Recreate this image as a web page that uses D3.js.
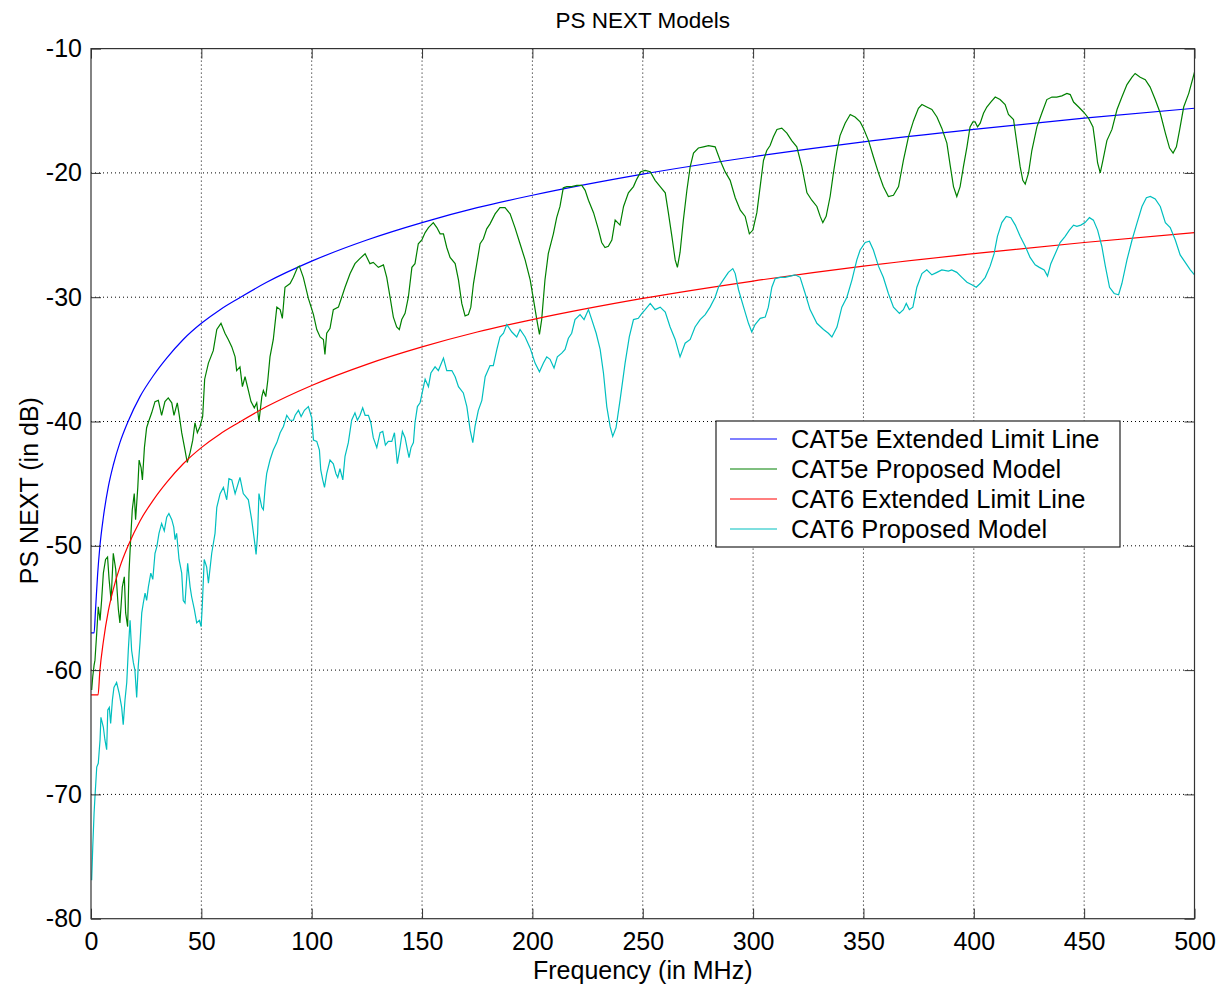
<!DOCTYPE html>
<head>
  <meta charset="utf-8">
  <style>
  body {
    margin: 0;
    background: #fff;
  }

  text {
    font-family: "Liberation Sans", Arial, sans-serif;
    fill: #000;
  }

  .grid line {
    stroke: #000;
    stroke-width: 1px;
    stroke-dasharray: 1, 3;
  }

  .line {
    fill: none;
    stroke-width: 1.2px;
  }
</style>
</head>
<svg class="chart" width="1222" height="989"></svg>

<script src="https://cdn.jsdelivr.net/npm/d3@7"></script>
<script>
// frequency ticks (MHz) and level ticks (dB)
var xTicks = [0, 50, 100, 150, 200, 250, 300, 350, 400, 450, 500];
var yTicks = [-80, -70, -60, -50, -40, -30, -20, -10];

var seriesNames = [
  "CAT5e Extended Limit Line",
  "CAT5e Proposed Model",
  "CAT6 Extended Limit Line",
  "CAT6 Proposed Model"
];

// [frequency MHz, PS NEXT dB]
var cat5eLimit = [
  [0, -57], [1.4, -57], [2, -55.3], [3, -52.3], [4, -50.1], [5.6, -47.7], [7.9, -45.2],
  [10.1, -43.5], [13.1, -41.7], [16.8, -40], [22.2, -38], [28.3, -36.3], [34.3, -34.9],
  [41.8, -33.4], [50, -32.1], [58.5, -31], [66.8, -30.1], [79.6, -28.8], [100, -27.1],
  [125, -25.4], [150, -24], [175, -22.8], [200, -21.8], [250, -20.1], [300, -18.7],
  [350, -17.5], [400, -16.5], [450, -15.6], [500, -14.8]
];

var cat6Limit = [
  [0, -62], [3.2, -62], [4, -60.1], [5.6, -57.7], [7.9, -55.2], [10.1, -53.5],
  [13.1, -51.7], [16.8, -50], [22.2, -48], [28.3, -46.3], [34.3, -44.9], [41.8, -43.4],
  [50, -42.1], [58.5, -41], [66.8, -40.1], [79.6, -38.8], [100, -37.1], [125, -35.4],
  [150, -34], [175, -32.8], [200, -31.8], [250, -30.1], [300, -28.7], [350, -27.5],
  [400, -26.5], [450, -25.6], [500, -24.8]
];

var cat5eModel = [
  [0.3,-61.6],[0.8,-60.5],[1.4,-59.6],[1.8,-59.2],[2.6,-57],[3.3,-54.9],[4.1,-56],[4.8,-54.4],
  [5.6,-52.2],[6.6,-51.1],[7.5,-50.9],[8.2,-52.7],[9.1,-54.4],[10.1,-50.6],[11.2,-51.9],
  [12.4,-55.1],[13.1,-56.2],[14.2,-53.3],[15.1,-52.5],[15.7,-55.4],[16.6,-56.5],[17.2,-52.2],
  [18.1,-49],[18.7,-47.1],[19.6,-45.8],[20.2,-47.9],[21.2,-45.3],[21.8,-43.1],[22.7,-43.7],
  [23.3,-44.7],[24.2,-42.1],[25.2,-40.5],[26.3,-39.9],[27.5,-39.3],[29,-38.4],[30.5,-38.3],
  [32,-39.5],[33.5,-38.4],[35,-38.1],[36.6,-38.5],[37.6,-39.5],[39.1,-38.5],[40,-39.5],
  [41.1,-40.9],[42.6,-42.3],[43.6,-43.3],[44.9,-42.5],[46.1,-41.5],[47.1,-40.1],[48.2,-40.9],
  [49.4,-40.4],[50.6,-39.6],[51.5,-36.6],[53.2,-35.3],[55.4,-34.3],[57,-32.6],[58.9,-32.1],
  [60.7,-32.9],[62.2,-33.4],[63.8,-34],[65.3,-34.8],[66,-35.9],[67.5,-35.6],[68.6,-37.2],
  [69.8,-36.4],[71.3,-37.5],[72.5,-38.4],[74,-38.9],[75.1,-38.5],[76.1,-40],[77.4,-38],
  [78.1,-37.5],[79.2,-38],[80.1,-36.7],[81.1,-34.8],[82.6,-33.4],[84.2,-30.8],[85.7,-31],
  [86.7,-31.7],[87.9,-29.2],[90.2,-28.9],[91.7,-28.4],[93.6,-27.6],[94.4,-27.5],[96.2,-28.4],
  [98.5,-30.1],[100.8,-31.4],[102.3,-32.6],[103.8,-33.2],[105.3,-33.4],[106,-34.6],[106.8,-32.9],
  [108.3,-32.5],[109.8,-31],[112.1,-30.8],[113.6,-30],[115.1,-29.2],[117.4,-28.1],[119.6,-27.3],
  [121.8,-26.9],[124.2,-26.5],[126.4,-27.3],[127.9,-27.2],[130.2,-27.6],[132.5,-27.4],[134,-28.4],
  [135.5,-30],[137,-31.6],[138.5,-32.4],[139.7,-32.6],[140.8,-31.8],[142.3,-31.3],[143.8,-30],
  [145.4,-27.6],[146.8,-27.3],[148.3,-25.7],[149.9,-25.4],[151.4,-24.8],[152.9,-24.4],[155.1,-24],
  [156.7,-24.4],[158.2,-24.9],[159.7,-24.9],[161.2,-26],[162.7,-26.8],[165,-27.3],[166.5,-28.6],
  [168,-30.5],[169.5,-31.5],[171,-31.4],[172.1,-30.8],[173.3,-28.9],[174.8,-27.3],[176.3,-25.7],
  [177.8,-25.3],[179.3,-24.5],[180.8,-24.1],[183.1,-23.3],[185.3,-22.8],[187.6,-22.8],[189.9,-23.3],
  [192.1,-24.4],[194.4,-25.7],[196.7,-27],[199,-28.6],[200.5,-30.2],[202,-31.8],[203.2,-33],
  [204.2,-31.8],[205.7,-28.6],[207.2,-26.5],[209.5,-24.9],[211,-23.6],[212.5,-22.7],[214,-21.2],
  [215.6,-21.1],[217.8,-21.1],[220.1,-21],[222.4,-21],[223.9,-21.4],[225.4,-22.2],[227.7,-23.2],
  [230,-24.6],[231.4,-25.6],[232.9,-26],[234.4,-25.9],[236,-25.4],[237.5,-23.8],[239.7,-24.2],
  [241.3,-22.7],[243.5,-21.6],[245.8,-21.1],[247.3,-20.5],[249.1,-19.9],[251.1,-19.8],[253.4,-19.9],
  [255.6,-20.6],[257.9,-21.1],[260.2,-21.6],[261.6,-23.2],[263.2,-25.1],[264.7,-27],[265.7,-27.6],
  [266.9,-26.4],[268.4,-23.8],[270,-21.4],[271.5,-19.5],[273,-18.4],[275.2,-18],[277.5,-17.9],
  [279.8,-17.8],[282.8,-17.9],[285.1,-19],[287.3,-19.9],[289.6,-20.6],[291.9,-22],[294.2,-23],
  [296.4,-23.5],[298.3,-24.9],[299.9,-24.6],[301.7,-23.2],[303.2,-21.1],[304.7,-19],[306.2,-18.2],
  [307.7,-17.8],[309.2,-17.1],[310.8,-16.5],[313,-16.4],[315.3,-16.8],[317.5,-17.4],[319.8,-17.9],
  [322.1,-19.5],[324.4,-21.6],[326.6,-22.2],[328.9,-22.7],[330.4,-23.5],[331.6,-24],[333.1,-23.5],
  [334.9,-21.9],[336.4,-20],[338,-18.2],[339.4,-17],[341.7,-16],[344,-15.3],[346.2,-15.5],
  [348.5,-15.9],[350,-16.4],[352.3,-17.4],[354.5,-18.7],[356.8,-20],[359,-21.1],[361.3,-21.9],
  [363.6,-21.8],[365.9,-21.1],[368.1,-19],[370.4,-17.1],[372.7,-15.8],[374.9,-14.8],[376.5,-14.5],
  [378.7,-14.7],[381,-14.9],[383.3,-15.5],[385.5,-16.4],[387.8,-17.6],[389.3,-19.4],[390.8,-21.1],
  [392.3,-21.9],[393.8,-21.1],[395.3,-19.5],[396.9,-17.9],[398.3,-16.3],[399.6,-15.9],[400.6,-15.9],
  [401.7,-16.3],[402.9,-16],[404.4,-15.2],[405.9,-14.7],[407.7,-14.3],[409.7,-13.9],[411.9,-14.1],
  [414.2,-14.5],[415.7,-15.3],[418,-15.7],[419.5,-17.6],[421,-19.5],[422.2,-20.6],[423.3,-20.9],
  [424.8,-20],[426.3,-18.2],[428.6,-16.3],[430.8,-15.2],[433.1,-14.1],[435.4,-13.9],[437.6,-13.9],
  [439.9,-13.8],[442.2,-13.6],[443.7,-13.7],[445.2,-14.3],[447.5,-14.7],[449.7,-15.1],[452,-15.6],
  [454,-16.3],[455,-17.6],[456.1,-19.2],[457.3,-20],[458.5,-19],[460.3,-17.4],[462.6,-16.5],
  [464.9,-14.9],[467.1,-13.9],[469.4,-12.9],[471.7,-12.3],[473.1,-12],[475.4,-12.3],[477.7,-12.5],
  [479.9,-13.1],[482.2,-14.1],[484.5,-15.2],[486.8,-16.8],[488.7,-18],[490.3,-18.4],[491.8,-17.9],
  [493.3,-16.5],[495.1,-14.7],[497.4,-13.6],[500,-11.9]
];

var cat6Model = [
  [0.3,-76.9],[0.8,-74.2],[1.4,-71.5],[1.8,-70.2],[2.6,-67.8],[3.3,-67.5],[4.1,-65.6],[4.5,-63.8],
  [5.6,-64.6],[6.3,-65.6],[7.1,-66.4],[7.6,-63.2],[8.3,-63],[8.9,-64.3],[9.7,-62.4],[10.4,-61.4],
  [11.6,-61],[12.8,-61.9],[13.9,-63],[14.6,-64.4],[15.4,-62.4],[16.2,-61],[16.9,-58.4],[17.7,-56],
  [18.4,-58.4],[19.2,-59.4],[19.9,-60],[20.7,-62.2],[21.4,-59.7],[22.2,-57.8],[23,-55.4],
  [23.7,-54.6],[24.5,-53.8],[25.2,-54.4],[26,-53.3],[27.1,-52.2],[28,-52.7],[29,-50.6],
  [29.8,-50.1],[30.8,-49],[32,-48.2],[33.2,-48.8],[34.3,-47.7],[35.3,-47.4],[36.6,-47.9],
  [37.5,-48.5],[38.1,-49.5],[38.8,-49],[39.9,-51.1],[41.1,-52.2],[41.8,-54.4],[42.6,-54.6],
  [43.8,-51.4],[44.9,-53.3],[45.6,-54.1],[46.8,-55.1],[47.9,-56.2],[49.1,-56],[49.9,-56.5],
  [50.4,-54.9],[51.3,-51.1],[52.4,-51.7],[53.2,-53],[54.7,-50.6],[56.2,-49],[57,-46.9],
  [58.5,-45.8],[60,-45.3],[61.5,-46.3],[62.5,-44.6],[63.8,-44.7],[65.3,-45.8],[67.5,-44.5],
  [69,-45.8],[71.3,-46.3],[72.8,-47.9],[74,-49.5],[74.8,-50.7],[75.5,-49],[76.1,-45.8],
  [77.4,-46.9],[78.1,-47.1],[78.9,-45.3],[79.6,-44.2],[81.1,-43.1],[82.6,-42.3],[84.2,-41.7],
  [85.7,-40.9],[87.2,-40.4],[88.7,-39.5],[90.2,-39.9],[91.7,-39.9],[92.5,-39.5],[94,-39.1],
  [95.2,-39.6],[96.7,-39.1],[98.5,-38.8],[100,-39.7],[100.8,-41.5],[102.3,-41.6],[103.5,-42.3],
  [104.1,-43.9],[105,-44.7],[105.8,-45.3],[106.8,-44.2],[108.3,-43.1],[109.8,-43.4],[111,-44.2],
  [111.8,-44.5],[112.8,-43.8],[114.1,-44.7],[115.1,-42.8],[116.6,-41.7],[118.1,-39.9],[119.6,-39.3],
  [120.7,-39.9],[121.9,-39.5],[123.1,-38.9],[124.2,-39.5],[125.7,-39.5],[126.8,-40.1],[127.9,-41.3],
  [129.5,-42.1],[131,-40.9],[132.2,-40.8],[133.4,-41.9],[134.7,-41.6],[136.3,-41.6],[137.5,-40.9],
  [138.8,-43.4],[140,-42.1],[141.1,-40.8],[142.3,-41.3],[143.4,-42.3],[144.1,-42.9],[145,-42.1],
  [146.1,-41.7],[146.8,-40.1],[147.9,-38.8],[149.1,-38.5],[150.3,-37.5],[151.4,-36.6],[152.9,-37.2],
  [154,-36.1],[155.9,-35.6],[157.4,-35.9],[159.7,-34.9],[161.2,-35.9],[163.5,-35.9],[165,-36.4],
  [166.5,-37.2],[168.7,-37.7],[170.3,-38.8],[171.8,-40.7],[173,-41.7],[174,-40.4],[175.5,-39.1],
  [177.1,-38.3],[178.6,-36.4],[180.8,-35.5],[182.3,-35.5],[183.9,-34.2],[185.3,-33.2],[186.9,-32.9],
  [188.4,-32.2],[190.7,-32.8],[192.9,-33.2],[194.4,-32.6],[196.7,-33.2],[199,-34.1],[201.2,-35.3],
  [203.2,-36],[205,-35.3],[206.5,-34.8],[208,-35],[209.8,-35.7],[211.3,-34.8],[213.3,-34.5],
  [214.8,-34.2],[216.3,-33.3],[217.8,-32.9],[219.3,-31.8],[221.6,-31.4],[223.4,-31.8],[225.4,-31],
  [226.9,-31.8],[228.9,-32.9],[230.7,-34.2],[232.2,-36.1],[233.7,-38.8],[235.2,-40.4],[236.4,-41.2],
  [237.9,-40.5],[239.7,-38.3],[242,-35.3],[243.9,-33.2],[245.8,-31.8],[248,-31.7],[249.6,-31.3],
  [251.1,-31],[253.4,-30.5],[255.6,-31],[257.9,-30.8],[260.2,-31.2],[262.4,-32.4],[264.7,-33.4],
  [266.9,-34.8],[269.2,-33.7],[271.5,-33.4],[273.7,-32.4],[276,-31.8],[278.3,-31.4],[280.5,-30.8],
  [282.8,-30],[284.3,-29.2],[286.5,-28.6],[288.8,-28],[290.8,-27.7],[291.9,-28.1],[293.4,-29.4],
  [295.7,-30.8],[297.9,-32.1],[299.4,-32.8],[300.9,-32.2],[303.2,-31.7],[305.5,-31.6],[306.9,-30.8],
  [308.5,-29.2],[310,-28.5],[312.3,-28.4],[314.5,-28.4],[316.8,-28.3],[319,-28.2],[321.3,-28.4],
  [323.6,-29.7],[325.8,-31],[328.9,-32.1],[331.9,-32.6],[334.1,-32.9],[335.7,-33.2],[338,-32.4],
  [340.2,-30.8],[342.5,-30],[344.8,-28.6],[347,-27],[348.5,-26.2],[350.8,-25.6],[352.7,-25.5],
  [354.5,-26.2],[356.8,-27.5],[359,-28.4],[361.3,-29.7],[363.6,-30.8],[366.3,-31.3],[368.1,-31],
  [369.4,-30.5],[370.8,-31],[372.4,-30.8],[374.2,-29.2],[376.5,-28.1],[378.7,-27.8],[381,-28.2],
  [383.3,-28],[385.5,-27.8],[388.5,-27.9],[390,-27.8],[392.3,-28],[394.6,-28.4],[396.9,-28.8],
  [399.1,-29],[401.1,-29.2],[402.9,-28.9],[405.2,-28.4],[407.4,-27.5],[409.2,-26.5],[410.7,-25.1],
  [412.7,-24],[414.7,-23.5],[416.8,-23.6],[418.8,-24.2],[421,-25.1],[423.3,-25.9],[425.5,-26.8],
  [427.8,-27.4],[429.7,-27.6],[431.9,-27.8],[433.4,-28.3],[434.9,-27.3],[436.9,-26.5],[439.1,-25.6],
  [441.4,-25.1],[443.3,-24.6],[445.2,-24.2],[446.7,-24.3],[448.5,-24.2],[450.4,-24],[452.4,-23.6],
  [454.2,-23.8],[456.1,-24.6],[458,-25.9],[459.6,-27.5],[461.5,-29.2],[463.6,-29.7],[465.6,-29.8],
  [467.1,-28.9],[469.4,-27],[471.7,-25.4],[474,-24],[476.2,-22.7],[478.2,-22],[480,-21.9],
  [482.2,-22.1],[484.5,-22.7],[486.8,-24],[489,-24.4],[491.3,-25.4],[493.5,-26.6],[495.8,-27.2],
  [498.1,-27.8],[500,-28.2]
];

var svg = d3.select("svg"),
  margin = { top: 48.6, right: 27.5, bottom: 70.3, left: 91 },
  width = svg.attr("width") - margin.left - margin.right,
  height = svg.attr("height") - margin.top - margin.bottom,
  g = svg
    .append("g")
    .attr("transform", "translate(" + margin.left + "," + margin.top + ")");

var x = d3.scaleLinear().domain([0, 500]).range([0, width]),
  y = d3.scaleLinear().domain([-80, -10]).range([height, 0]);

var colors = ["#0000ff", "#008000", "#ff0000", "#00bfbf"];
var allSeries = [cat5eLimit, cat5eModel, cat6Limit, cat6Model];

g.append("clipPath")
  .attr("id", "clip")
  .append("rect")
  .attr("width", width)
  .attr("height", height);

// dotted grid
g.append("g")
  .attr("class", "grid")
  .selectAll("line")
  .data(xTicks.slice(1, -1))
  .enter()
  .append("line")
  .attr("x1", d => x(d))
  .attr("x2", d => x(d))
  .attr("y1", 0)
  .attr("y2", height);

g.append("g")
  .attr("class", "grid")
  .selectAll("line")
  .data(yTicks.slice(1, -1))
  .enter()
  .append("line")
  .attr("x1", 0)
  .attr("x2", width)
  .attr("y1", d => y(d))
  .attr("y2", d => y(d));

// lines
var smooth = d3.line().curve(d3.curveMonotoneX).x(d => x(d[0])).y(d => y(d[1]));
var jagged = d3.line().x(d => x(d[0])).y(d => y(d[1]));

g.append("g")
  .attr("clip-path", "url(#clip)")
  .selectAll("path")
  .data(allSeries)
  .enter()
  .append("path")
  .attr("class", "line")
  .attr("d", (d, i) => (i % 2 === 0 ? smooth(d) : jagged(d)))
  .style("stroke", (d, i) => colors[i]);

// axes, ticks pointing inward, on all four sides (matlab box)
function styleAxis(sel) {
  sel.select(".domain").remove();
  sel.selectAll(".tick line").attr("stroke", "#333");
  sel.selectAll(".tick text")
    .style("font-size", "25px")
    .style("font-family", '"Liberation Sans", Arial, sans-serif');
}

// plain hyphen like the original, not d3's unicode minus
var plain = d => String(d);

g.append("g")
  .attr("transform", "translate(0," + height + ")")
  .call(d3.axisBottom(x).tickValues(xTicks).tickSize(-10).tickPadding(14).tickFormat(plain))
  .call(styleAxis);

g.append("g")
  .call(d3.axisTop(x).tickValues(xTicks).tickSize(-10).tickFormat(""))
  .call(styleAxis);

g.append("g")
  .call(d3.axisLeft(y).tickValues(yTicks).tickSize(-10).tickPadding(9).tickFormat(plain))
  .call(styleAxis);

g.append("g")
  .attr("transform", "translate(" + width + ",0)")
  .call(d3.axisRight(y).tickValues(yTicks).tickSize(-10).tickFormat(""))
  .call(styleAxis);

g.append("rect")
  .attr("width", width)
  .attr("height", height)
  .attr("fill", "none")
  .attr("stroke", "#333")
  .attr("stroke-width", 1.2);

// titles
svg.append("text")
  .attr("x", margin.left + width / 2)
  .attr("y", 28)
  .attr("text-anchor", "middle")
  .style("font-size", "22.5px")
  .text("PS NEXT Models");

svg.append("text")
  .attr("x", margin.left + width / 2)
  .attr("y", 979)
  .attr("text-anchor", "middle")
  .style("font-size", "25px")
  .text("Frequency (in MHz)");

svg.append("text")
  .attr("transform", "translate(38," + (margin.top + height / 2 + 7) + ") rotate(-90)")
  .attr("text-anchor", "middle")
  .style("font-size", "25px")
  .text("PS NEXT (in dB)");

// legend
var legend = svg.append("g").attr("transform", "translate(716,421)");

legend.append("rect")
  .attr("width", 404)
  .attr("height", 126)
  .attr("fill", "#fff")
  .attr("stroke", "#222")
  .attr("stroke-width", 1.2);

var item = legend.selectAll(".item")
  .data(seriesNames)
  .enter()
  .append("g")
  .attr("transform", (d, i) => "translate(0," + (18 + i * 30) + ")");

item.append("line")
  .attr("x1", 14)
  .attr("x2", 61)
  .attr("stroke-width", 1.2)
  .attr("stroke", (d, i) => colors[i]);

item.append("text")
  .attr("x", 75)
  .attr("dy", "0.35em")
  .style("font-size", "25.5px")
  .text(d => d);
</script>
